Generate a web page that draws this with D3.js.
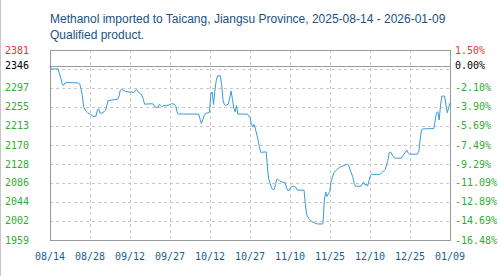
<!DOCTYPE html>
<html>
<head>
<meta charset="utf-8">
<script src="https://cdnjs.cloudflare.com/ajax/libs/d3/7.8.5/d3.min.js"></script>
<style>
  body { margin: 0; background: #fff; }
  svg { display: block; }
</style>
</head>
<body>
<div id="chart-area"></div>
<script>

// chart texts
var titleLines = ["Methanol imported to Taicang, Jiangsu Province, 2025-08-14 - 2026-01-09",
                  "Qualified product."];

// base price (0.00%) and range of the price axis
var basePrice = 2346;
var priceRange = [1959.4, 2381.2];

// left / right tick labels, bottom to top
var priceTicks = [1959.4, 2001.6, 2043.8, 2086.0, 2128.1, 2170.3, 2212.5, 2254.7, 2296.9, 2346, 2381.2];
var priceLabels = ["1959", "2002", "2044", "2086", "2128", "2170", "2213", "2255", "2297", "2346", "2381"];
var pctLabels = ["-16.48%", "-14.69%", "-12.89%", "-11.09%", "-9.29%", "-7.49%", "-5.69%", "-3.90%", "-2.10%", "0.00%", "1.50%"];

// date axis
var dateRange = ["2025-08-14 00", "2026-01-09 00"];
var dateLabels = ["08/14", "08/28", "09/12", "09/27", "10/12", "10/27", "11/10", "11/25", "12/10", "12/25", "01/09"];

// price series
var dates = [
  "2025-08-14 00","2025-08-14 12","2025-08-17 00","2025-08-17 12","2025-08-18 00","2025-08-18 12","2025-08-19 00","2025-08-19 12",
  "2025-08-20 00","2025-08-24 12","2025-08-25 00","2025-08-25 12","2025-08-26 00","2025-08-26 12","2025-08-27 00","2025-08-27 12",
  "2025-08-28 00","2025-08-29 00","2025-08-30 00","2025-08-31 00","2025-08-31 12","2025-09-01 00","2025-09-01 12","2025-09-02 00",
  "2025-09-03 00","2025-09-03 12","2025-09-04 00","2025-09-04 12","2025-09-08 00","2025-09-08 12","2025-09-09 00","2025-09-09 12",
  "2025-09-10 00","2025-09-11 00","2025-09-14 00","2025-09-15 00","2025-09-15 12","2025-09-16 00","2025-09-17 00","2025-09-17 12",
  "2025-09-18 00","2025-09-21 00","2025-09-21 12","2025-09-22 00","2025-09-23 00","2025-09-23 12","2025-09-24 00","2025-09-24 12",
  "2025-09-25 00","2025-09-26 00","2025-09-27 00","2025-09-28 00","2025-09-29 00","2025-09-29 12","2025-09-30 00","2025-09-30 12",
  "2025-10-08 00","2025-10-08 12","2025-10-09 00","2025-10-09 12","2025-10-10 00","2025-10-10 12","2025-10-12 00","2025-10-12 12",
  "2025-10-13 00","2025-10-13 12","2025-10-14 00","2025-10-14 12","2025-10-15 00","2025-10-16 00","2025-10-16 12","2025-10-17 00",
  "2025-10-17 12","2025-10-18 00","2025-10-19 00","2025-10-20 00","2025-10-20 12","2025-10-21 00","2025-10-21 12","2025-10-22 00",
  "2025-10-22 12","2025-10-26 00","2025-10-27 00","2025-10-27 12","2025-10-28 00","2025-10-28 12","2025-10-29 00","2025-10-30 00",
  "2025-10-30 12","2025-10-31 00","2025-11-02 00","2025-11-02 12","2025-11-03 00","2025-11-04 00","2025-11-04 12","2025-11-05 00",
  "2025-11-05 12","2025-11-06 00","2025-11-06 12","2025-11-07 00","2025-11-08 00","2025-11-09 00","2025-11-09 12","2025-11-10 00",
  "2025-11-10 12","2025-11-11 00","2025-11-11 12","2025-11-12 00","2025-11-13 00","2025-11-13 12","2025-11-16 00","2025-11-16 12",
  "2025-11-17 00","2025-11-18 00","2025-11-19 00","2025-11-20 00","2025-11-21 00","2025-11-23 00","2025-11-23 12","2025-11-24 00",
  "2025-11-24 12","2025-11-25 00","2025-11-25 12","2025-11-26 00","2025-11-26 12","2025-11-27 00","2025-11-28 00","2025-11-29 00",
  "2025-11-30 00","2025-12-01 00","2025-12-02 00","2025-12-02 12","2025-12-03 00","2025-12-04 00","2025-12-04 12","2025-12-05 00",
  "2025-12-07 00","2025-12-08 00","2025-12-08 12","2025-12-09 00","2025-12-09 12","2025-12-10 00","2025-12-10 12","2025-12-11 00",
  "2025-12-14 00","2025-12-15 00","2025-12-16 00","2025-12-16 12","2025-12-17 00","2025-12-17 12","2025-12-18 00","2025-12-19 00",
  "2025-12-19 12","2025-12-22 00","2025-12-22 12","2025-12-23 00","2025-12-24 00","2025-12-24 12","2025-12-25 00","2025-12-28 00",
  "2025-12-28 12","2025-12-29 00","2025-12-29 12","2025-12-30 00","2026-01-03 00","2026-01-04 00","2026-01-04 12","2026-01-05 00",
  "2026-01-05 12","2026-01-06 00","2026-01-07 00","2026-01-07 12","2026-01-08 00","2026-01-08 12","2026-01-09 00"
];

var prices = [
  2346, 2339, 2339, 2328, 2319, 2306, 2302, 2308,
  2309, 2308, 2306, 2295, 2277, 2255, 2248, 2245,
  2242, 2238, 2234, 2234, 2248, 2251, 2241, 2241,
  2244, 2247, 2257, 2269, 2272, 2277, 2292, 2294,
  2292, 2289, 2287, 2294, 2290, 2286, 2281, 2272,
  2261, 2262, 2257, 2254, 2254, 2261, 2258, 2255,
  2258, 2258, 2259, 2262, 2261, 2257, 2244, 2239,
  2239, 2228, 2218, 2226, 2235, 2240, 2243, 2283,
  2288, 2260, 2290, 2313, 2324, 2324, 2305, 2271,
  2260, 2258, 2261, 2290, 2272, 2252, 2244, 2258,
  2239, 2239, 2231, 2217, 2210, 2216, 2206, 2181,
  2165, 2154, 2155, 2117, 2093, 2075, 2071, 2072,
  2085, 2095, 2093, 2090, 2088, 2087, 2075, 2069,
  2070, 2076, 2078, 2079, 2076, 2070, 2070, 2037,
  2015, 2005, 2000, 1997, 1995, 1995, 2048, 2066,
  2056, 2062, 2067, 2089, 2099, 2108, 2115, 2120,
  2123, 2125, 2128, 2125, 2116, 2100, 2086, 2079,
  2079, 2088, 2082, 2084, 2079, 2090, 2102, 2105,
  2105, 2110, 2116, 2126, 2136, 2153, 2155, 2145,
  2141, 2141, 2147, 2150, 2159, 2153, 2150, 2150,
  2157, 2186, 2204, 2206, 2207, 2242, 2244, 2226,
  2259, 2279, 2279, 2259, 2242, 2252, 2264
];


var width = 500,
	height = 276;

var margin = {top: 50, right: 50, bottom: 36, left: 50};
var plotW = width - margin.left - margin.right,
	plotH = height - margin.top - margin.bottom;

var parseTime = d3.timeParse("%Y-%m-%d %H");

var data = dates.map(function (d, i) {
	return {date: parseTime(d), price: prices[i]};
});

var svg = d3.select("#chart-area")
	.append("svg")
	.attr("width", width)
	.attr("height", height);

// thin border on the left edge of the image
svg.append("line")
	.attr("x1", 0.5).attr("x2", 0.5)
	.attr("y1", 0).attr("y2", height)
	.attr("stroke", "#c8c8c8");

// title
svg.selectAll("text.title").data(titleLines).enter()
	.append("text")
	.attr("class", "title")
	.attr("x", 50)
	.attr("y", function (d, i) {return 23 + i * 16})
	.attr("font-family", "'Liberation Sans', Arial, sans-serif")
	.attr("font-size", 12)
	.attr("fill", "#1b5282")
	.text(function (d) {return d});

var g = svg.append("g")
	.attr("transform", "translate(" + margin.left + "," + margin.top + ")");

var xScale = d3.scaleTime()
	.domain(dateRange.map(parseTime))
	.range([0, plotW]);

var yScale = d3.scaleLinear()
	.domain(priceRange)
	.range([plotH, 0]);

// evenly spaced date ticks
var xTicks = d3.range(dateLabels.length).map(function (i) {
	var t0 = xScale.domain()[0].getTime(), t1 = xScale.domain()[1].getTime();
	return new Date(t0 + (t1 - t0) * i / (dateLabels.length - 1));
});

// grid: 10 equal divisions of the price range
var yGrid = d3.range(1, 10).map(function (k) {
	return priceRange[0] + (priceRange[1] - priceRange[0]) * k / 10;
});

g.selectAll("line.hgrid").data(yGrid).enter()
	.append("line")
	.attr("class", "hgrid")
	.attr("x1", 0).attr("x2", plotW)
	.attr("y1", function (d) {return Math.round(yScale(d)) + 0.5})
	.attr("y2", function (d) {return Math.round(yScale(d)) + 0.5})
	.attr("stroke", "#c8c8c8")
	.attr("stroke-dasharray", "3,3");

g.selectAll("line.vgrid").data(xTicks.slice(1, -1)).enter()
	.append("line")
	.attr("class", "vgrid")
	.attr("x1", function (d) {return Math.round(xScale(d)) + 0.5})
	.attr("x2", function (d) {return Math.round(xScale(d)) + 0.5})
	.attr("y1", 0).attr("y2", plotH)
	.attr("stroke", "#c8c8c8")
	.attr("stroke-dasharray", "3,3");

// base price line
g.append("line")
	.attr("x1", 0).attr("x2", plotW)
	.attr("y1", Math.round(yScale(basePrice)) + 0.5)
	.attr("y2", Math.round(yScale(basePrice)) + 0.5)
	.attr("stroke", "#999");

// frame
g.append("rect")
	.attr("x", 0.5).attr("y", 0.5)
	.attr("width", plotW).attr("height", plotH)
	.attr("fill", "none")
	.attr("stroke", "#999");

// the price line
var line = d3.line()
	.x(function (d) {return xScale(d.date)})
	.y(function (d) {return yScale(d.price)});

g.append("path")
	.datum(data)
	.attr("d", line)
	.attr("fill", "none")
	.attr("stroke", "#3a9ad9")
	.attr("stroke-width", 1);

// axis labels
var tickColor = function (i) {
	if (i == priceTicks.length - 1) return "#f03030";
	if (i == priceTicks.length - 2) return "#000";
	return "#33aa33";
};

var mono = "'DejaVu Sans Mono', monospace";

svg.selectAll("text.left").data(priceTicks).enter()
	.append("text")
	.attr("class", "left")
	.attr("x", 5)
	.attr("y", function (d) {return margin.top + yScale(d)})
	.attr("dy", "0.35em")
	.attr("font-family", mono)
	.attr("font-size", 10)
	.attr("fill", function (d, i) {return tickColor(i)})
	.text(function (d, i) {return priceLabels[i]});

svg.selectAll("text.right").data(priceTicks).enter()
	.append("text")
	.attr("class", "right")
	.attr("x", margin.left + plotW + 5)
	.attr("y", function (d) {return margin.top + yScale(d)})
	.attr("dy", "0.35em")
	.attr("font-family", mono)
	.attr("font-size", 10)
	.attr("fill", function (d, i) {return tickColor(i)})
	.text(function (d, i) {return pctLabels[i]});

svg.selectAll("text.bottom").data(xTicks).enter()
	.append("text")
	.attr("class", "bottom")
	.attr("x", function (d) {return margin.left + xScale(d)})
	.attr("y", margin.top + plotH + 20)
	.attr("text-anchor", "middle")
	.attr("font-family", mono)
	.attr("font-size", 10)
	.attr("fill", "#175f8e")
	.text(function (d, i) {return dateLabels[i]});

</script>
</body>
</html>
